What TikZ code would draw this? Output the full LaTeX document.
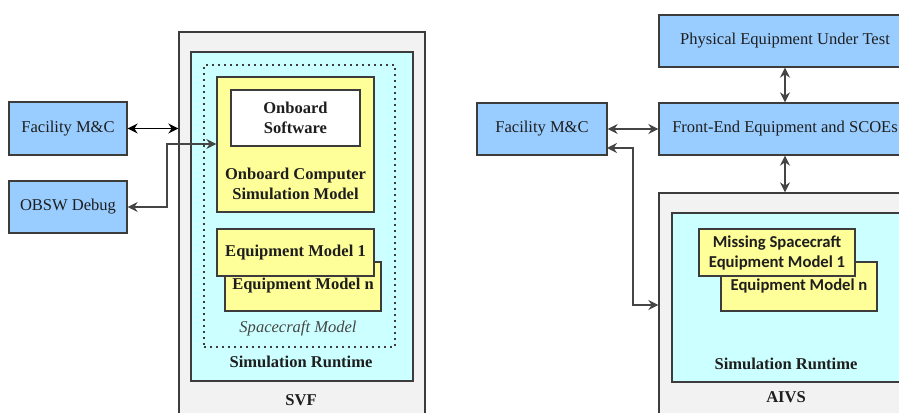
\documentclass[tikz,border=0pt]{standalone}
\usepackage{fontspec}
\setmainfont{Liberation Serif}
\newfontfamily\calibrifont{Carlito}
\usetikzlibrary{arrows.meta}
\definecolor{bluefill}{HTML}{99CCFF}
\definecolor{cyanfill}{HTML}{CCFFFF}
\definecolor{yellowfill}{HTML}{FFFF99}
\definecolor{grayfill}{HTML}{F2F2F2}
\definecolor{edge}{HTML}{3C3C3C}
\definecolor{arrowgray}{HTML}{454545}
\definecolor{txt}{HTML}{1E1E1E}
\begin{document}
\begin{tikzpicture}[x=0.75pt,y=-0.75pt,
  every node/.style={font=\rmfamily\fontsize{12.4}{15}\selectfont, text=txt, align=center, inner sep=0pt},
  boxbase/.style={draw=edge, line width=1pt, rectangle},
  bluebox/.style={boxbase, fill=bluefill},
  yellowbox/.style={boxbase, fill=yellowfill},
  whitebox/.style={boxbase, fill=white},
  cyanbox/.style={boxbase, fill=cyanfill},
  graybox/.style={boxbase, fill=grayfill},
  dotbox/.style={draw=edge, line width=0.8pt, dash pattern=on 1.5pt off 3pt},
  conn/.style={line width=1pt, draw=arrowgray, {Stealth[length=7.5pt,width=7.5pt]}-{Stealth[length=7.5pt,width=7.5pt]}},
  connblack/.style={conn, draw=black},
  sz/.style n args={2}{minimum width=#1*0.75pt, minimum height=#2*0.75pt},
  boldtxt/.style={font=\rmfamily\fontsize{12.4}{15}\selectfont\bfseries},
  calbold/.style={font=\calibrifont\fontsize{12.5}{15}\selectfont\bfseries}
]
\useasboundingbox (0,0) rectangle (899,413);
\fill[white] (0,0) rectangle (899,413);
\clip (0,0) rectangle (899,413);

% ---------------- Left: SVF ----------------
\node[bluebox, sz={118}{53}] (fac1) at (68,128.5) {Facility M\&C};
\node[bluebox, sz={118}{52}] (obsw) at (68,207) {OBSW Debug};

\node[graybox, sz={246}{400}] (svf) at (302,232) {};
\node[boldtxt] (svflbl) at (301,400) {SVF};
\node[cyanbox, sz={222}{329}] (rt1) at (302,216.5) {};
\node[boldtxt] (rt1lbl) at (301,362) {Simulation Runtime};
\node[dotbox, sz={191}{282}] (scm) at (299.5,206) {};
\node[font=\rmfamily\fontsize{12.4}{15}\selectfont\itshape, text=arrowgray] (scmlbl) at (298,328) {Spacecraft Model};

\node[yellowbox, sz={157}{135}] (obc) at (295.5,144.5) {};
\node[whitebox, sz={129}{56}, boldtxt] (sw) at (295.5,118) {Onboard\\Software};
\node[boldtxt] (obclbl) at (295.5,183.5) {Onboard Computer\\Simulation Model};

\node[yellowbox, sz={156}{49}] (eqn1) at (303,286.5) {};
\node[boldtxt] (eqn1lbl) at (303,286) {Equipment Model n};
\node[yellowbox, sz={157}{47}, boldtxt] (eq11) at (295.5,252.5) {Equipment Model 1};

\draw[connblack] (fac1.east) -- (fac1.east -| svf.west);
\coordinate (bend1) at (167,144);
\draw[conn] (obsw.east) -| (bend1) -- (bend1 -| obc.west);

% ---------------- Right: AIVS ----------------
\node[bluebox, sz={130}{52}] (fac2) at (542,129) {Facility M\&C};
\node[bluebox, sz={252}{52}] (phys) at (785,41) {Physical Equipment Under Test};
\node[bluebox, sz={252}{52}] (fe) at (785,129) {Front-End Equipment and SCOEs};

\node[graybox, sz={252}{237}] (aivs) at (785,311.5) {};
\node[boldtxt] (aivslbl) at (786,397) {AIVS};
\node[cyanbox, sz={228}{169}] (rt2) at (786,297.5) {};
\node[boldtxt] (rt2lbl) at (786,364) {Simulation Runtime};

\node[yellowbox, sz={156}{49}] (eqn2) at (799,286.5) {};
\node[calbold] (eqn2lbl) at (799,286) {Equipment Model n};
\node[yellowbox, sz={156}{47}, calbold] (miss) at (777,252.5) {Missing Spacecraft\\Equipment Model 1};

\draw[conn] (fac2.east) -- (fe.west);
\draw[conn] (phys.south) -- (fe.north);
\draw[conn] (fe.south) -- (fe.south |- aivs.north);
\coordinate (f2out) at (607,148);
\coordinate (bend2) at (633,305);
\draw[conn] (f2out) -| (bend2) -- (bend2 -| aivs.west);
\end{tikzpicture}
\end{document}
